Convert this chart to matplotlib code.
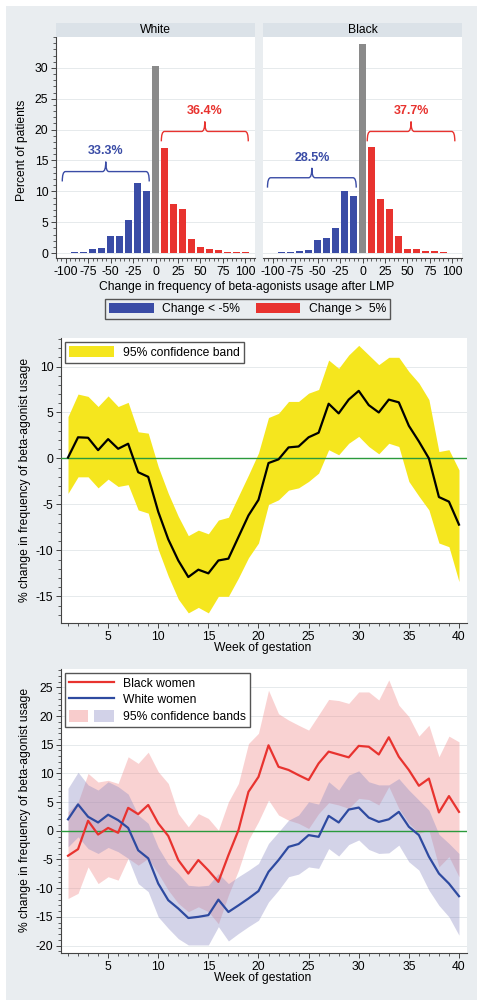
import matplotlib
matplotlib.use('Agg')
import matplotlib.pyplot as plt
import numpy as np
from matplotlib.patches import Patch, Rectangle
from matplotlib.lines import Line2D
from matplotlib.path import Path
from matplotlib.patches import PathPatch
from matplotlib.legend_handler import HandlerTuple
from matplotlib.ticker import MultipleLocator

plt.rcParams['font.family'] = ['Liberation Sans', 'DejaVu Sans']
plt.rcParams['axes.unicode_minus'] = False

# ---- data: histograms (percent of patients by change bin) ----
bins = [-100, -90, -80, -70, -60, -50, -40, -30, -20, -10, 0,
        10, 20, 30, 40, 50, 60, 70, 80, 90, 100]
white_pct = [0.05, 0.1, 0.15, 0.6, 0.9, 2.7, 2.7, 5.3, 11.4, 10.05, 30.3,
             17.0, 7.9, 7.1, 2.3, 1.0, 0.7, 0.5, 0.2, 0.2, 0.1]
black_pct = [0.05, 0.1, 0.15, 0.3, 0.5, 2.05, 2.4, 4.1, 10.0, 9.2, 33.8,
             17.2, 8.75, 7.2, 2.8, 0.7, 0.65, 0.3, 0.3, 0.1, 0.05]
# bracket annotations: (x0, x1, y, label)
white_brackets = [(-104, -7, 13.2, '33.3%'), (6.5, 103.5, 19.7, '36.4%')]
black_brackets = [(-106, -7, 12.2, '28.5%'), (5.3, 103, 19.7, '37.7%')]

# ---- data: overall weekly change ----
weeks = list(range(1, 41))
all_mean = [0.1, 2.3, 2.25, 0.9, 2.1, 1.05, 1.6, -1.5, -2.0, -5.8,
            -8.8, -11.1, -12.9, -12.1, -12.5, -11.1, -10.9, -8.55, -6.2, -4.5,
            -0.5, -0.1, 1.2, 1.3, 2.3, 2.8, 5.95, 4.9, 6.4, 7.35,
            5.8, 5.0, 6.4, 6.1, 3.55, 1.85, 0.0, -4.2, -4.7, -7.2]
all_hi = [4.55, 7.0, 6.75, 5.65, 6.8, 5.65, 6.1, 2.9, 2.75, -0.9,
          -3.8, -6.3, -8.4, -7.8, -8.2, -6.7, -6.4, -4.1, -1.8, 0.6,
          4.45, 4.9, 6.2, 6.2, 7.1, 7.5, 10.7, 9.8, 11.25, 12.3,
          11.25, 10.2, 11.0, 11.0, 9.45, 8.2, 6.4, 0.75, 0.95, -1.25]
all_lo = [-3.8, -2.0, -2.0, -3.2, -2.25, -3.05, -2.85, -5.6, -5.95, -9.9,
          -12.8, -15.3, -16.8, -16.2, -16.8, -15.0, -15.0, -13.0, -10.8, -9.2,
          -5.0, -4.5, -3.45, -3.2, -2.5, -1.6, 0.95, 0.4, 1.65, 2.4,
          1.3, 0.5, 1.65, 1.3, -2.5, -4.1, -5.6, -9.2, -9.6, -13.4]

# ---- data: by race ----
black_mean = [-4.35, -3.2, 1.75, -0.65, 0.5, -0.35, 4.0, 2.9, 4.5, 1.3,
              -0.9, -5.1, -7.45, -5.1, -6.9, -8.9, -4.25, 0.1, 6.8, 9.4,
              14.9, 11.15, 10.6, 9.7, 8.85, 11.75, 13.8, 13.3, 12.8, 14.8,
              14.65, 13.3, 16.3, 12.9, 10.6, 7.85, 9.1, 3.2, 6.05, 3.3]
black_hi = [3.3, 5.0, 10.0, 8.5, 8.8, 8.25, 12.9, 11.75, 13.7, 10.3,
            8.25, 3.0, 0.7, 3.0, 2.15, 0.1, 5.05, 8.25, 15.2, 17.0,
            24.5, 20.4, 19.3, 18.4, 17.55, 20.2, 22.9, 22.7, 22.2, 24.2,
            24.2, 22.8, 26.3, 21.9, 19.9, 16.5, 18.4, 12.9, 16.5, 15.5]
black_lo = [-11.8, -10.9, -6.3, -9.2, -8.0, -8.6, -4.8, -6.0, -4.8, -7.45,
            -10.35, -12.65, -14.1, -13.25, -14.1, -16.2, -11.2, -6.9, -1.6, 1.6,
            5.35, 2.75, 1.85, 1.3, 0.4, 3.0, 4.9, 4.5, 3.9, 5.65,
            5.45, 4.5, 7.7, 3.9, 1.3, -0.45, 0.1, -6.3, -4.5, -8.0]
white_mean = [2.0, 4.6, 2.45, 1.45, 2.8, 1.85, 0.5, -3.4, -4.8, -9.2,
              -12.1, -13.55, -15.2, -15.0, -14.7, -12.0, -14.15, -13.0, -11.8, -10.5,
              -7.15, -5.1, -2.8, -2.3, -0.75, -1.05, 2.6, 1.45, 3.7, 4.05,
              2.3, 1.55, 2.0, 3.3, 0.7, -0.75, -4.5, -7.45, -9.2, -11.4]
white_hi = [7.4, 10.2, 8.0, 7.1, 8.55, 7.7, 6.4, 2.75, 1.3, -2.9,
            -5.8, -7.45, -9.5, -9.65, -9.5, -7.45, -9.2, -8.0, -6.9, -5.7,
            -2.2, -0.2, 1.85, 2.75, 5.05, 4.65, 8.55, 7.1, 9.7, 10.45,
            8.55, 8.0, 8.0, 9.1, 7.1, 5.35, 3.6, -0.6, -2.2, -3.95]
white_lo = [-2.8, -1.05, -3.1, -3.95, -2.9, -3.65, -4.8, -9.2, -10.6, -15.0,
            -17.0, -18.8, -19.9, -19.9, -19.9, -16.7, -19.2, -17.9, -16.7, -15.6,
            -12.4, -10.35, -8.0, -7.55, -6.3, -6.55, -3.1, -4.4, -2.4, -1.6,
            -3.25, -3.95, -3.85, -2.5, -5.4, -6.85, -10.35, -13.0, -15.0, -18.2]

BLUE = '#3a4ca6'
RED = '#e8332f'
GRAY = '#8a8a8a'
BG = '#e9edf0'
AXC = '#444444'
FS = 8.7

W, H = 483, 1007
fig = plt.figure(figsize=(W / 100, H / 100), dpi=100)
fig.patch.set_facecolor('white')
fig.add_artist(Rectangle((6 / W, 1 - 1000 / H), 471 / W, 994 / H,
                         transform=fig.transFigure, facecolor=BG,
                         edgecolor='none', zorder=-10))


def ax_px(l, t, r, b):
    return fig.add_axes([l / W, 1 - b / H, (r - l) / W, (b - t) / H])


def style(ax, left=True):
    for s in ['top', 'right']:
        ax.spines[s].set_visible(False)
    ax.spines['bottom'].set_color(AXC)
    ax.spines['left'].set_color(AXC)
    ax.spines['left'].set_visible(left)
    ax.tick_params(which='major', length=3.5, width=0.7, color=AXC,
                   labelsize=FS, pad=2)
    ax.tick_params(which='minor', length=2, width=0.6, color=AXC)
    ax.set_axisbelow(True)
    ax.grid(axis='y', which='major', color='#e6eaec', lw=0.7)


def brace(ax, x0, x1, y, color, label):
    dy = 1.6
    dx = 3.5
    xc = (x0 + x1) / 2
    verts = [(x0, y - dy), (x0, y), (x0 + dx, y),
             (xc - dx, y), (xc, y), (xc, y + dy),
             (xc, y), (xc + dx, y),
             (x1 - dx, y), (x1, y), (x1, y - dy)]
    codes = [Path.MOVETO, Path.CURVE3, Path.CURVE3,
             Path.LINETO, Path.CURVE3, Path.CURVE3,
             Path.CURVE3, Path.CURVE3,
             Path.LINETO, Path.CURVE3, Path.CURVE3]
    ax.add_patch(PathPatch(Path(verts, codes), facecolor='none',
                           edgecolor=color, lw=1.0, clip_on=False))
    ax.text(xc, y + dy + 0.7, label, color=color, ha='center', va='bottom',
            fontsize=9, fontweight='bold')


# ---- histograms ----
for l, r, name, vals, brs in [(56, 255, 'White', white_pct, white_brackets),
                              (263, 462, 'Black', black_pct, black_brackets)]:
    ax = ax_px(l, 37, r, 258)
    cols = [BLUE if b < 0 else (RED if b > 0 else GRAY) for b in bins]
    ax.bar(bins, vals, width=8, color=cols, edgecolor='none')
    ax.set_xlim(-111, 111)
    ax.set_ylim(-0.8, 35)
    style(ax, left=(name == 'White'))
    ax.set_xticks([-100, -75, -50, -25, 0, 25, 50, 75, 100])
    ax.xaxis.set_minor_locator(MultipleLocator(5))
    ax.set_yticks([0, 5, 10, 15, 20, 25, 30])
    ax.yaxis.set_minor_locator(MultipleLocator(1))
    if name != 'White':
        ax.tick_params(axis='y', which='both', left=False, labelleft=False)
    for x0, x1, y, lab in brs:
        brace(ax, x0, x1, y, BLUE if x0 < 0 else RED, lab)
    sax = ax_px(l, 23, r, 37)
    sax.set_facecolor('#dbe2e8')
    sax.set_xticks([])
    sax.set_yticks([])
    for s in sax.spines.values():
        s.set_visible(False)
    sax.text(0.5, 0.5, name, ha='center', va='center', fontsize=FS,
             transform=sax.transAxes)

fig.text(22 / W, 1 - 150 / H, 'Percent of patients', rotation=90,
         ha='center', va='center', fontsize=FS)
fig.text(247 / W, 1 - 287 / H,
         'Change in frequency of beta-agonists usage after LMP',
         ha='center', va='center', fontsize=FS)
fig.legend(handles=[Patch(facecolor=BLUE, label='Change < -5%'),
                    Patch(facecolor=RED, label='Change >  5%')],
           loc='center', bbox_to_anchor=(247.5 / W, 1 - 309 / H), ncol=2,
           fontsize=FS, frameon=True, fancybox=False, edgecolor='#555555',
           framealpha=1, facecolor=BG, handlelength=3.7, handleheight=0.9,
           columnspacing=1.3, borderpad=0.3, handletextpad=0.7)


def week_axis(ax):
    ax.set_xlim(0.3, 40.8)
    ax.set_xticks([5, 10, 15, 20, 25, 30, 35, 40])
    ax.xaxis.set_minor_locator(MultipleLocator(1))
    ax.yaxis.set_minor_locator(MultipleLocator(1))
    ax.axhline(0, color='#2a9a3c', lw=1.0, zorder=3)


# ---- middle: overall ----
ax2 = ax_px(61, 338, 467, 623)
ax2.fill_between(weeks, all_lo, all_hi, color='#f5e61e', lw=0,
                 label='95% confidence band')
week_axis(ax2)
ax2.plot(weeks, all_mean, color='black', lw=1.6, zorder=4)
ax2.set_ylim(-17.9, 13.1)
ax2.set_yticks([-15, -10, -5, 0, 5, 10])
style(ax2)
ax2.legend(loc='upper left', fontsize=FS, fancybox=False,
           edgecolor='#555555', framealpha=1, handlelength=3.7,
           handleheight=1.1, borderpad=0.35, borderaxespad=0.3)
fig.text(25 / W, 1 - 480 / H, '% change in frequency of beta-agonist usage',
         rotation=90, ha='center', va='center', fontsize=FS)
fig.text(263 / W, 1 - 648 / H, 'Week of gestation', ha='center',
         va='center', fontsize=FS)

# ---- bottom: by race ----
ax3 = ax_px(61, 669, 467, 953)
bp = ax3.fill_between(weeks, black_lo, black_hi, color='#f08a8a',
                      alpha=0.38, lw=0)
wp = ax3.fill_between(weeks, white_lo, white_hi, color='#8c8cc4',
                      alpha=0.38, lw=0)
week_axis(ax3)
lb, = ax3.plot(weeks, black_mean, color=RED, lw=1.6, zorder=4)
lw_, = ax3.plot(weeks, white_mean, color='#2e4aa0', lw=1.6, zorder=4)
ax3.set_ylim(-21.3, 28.2)
ax3.set_yticks([-20, -15, -10, -5, 0, 5, 10, 15, 20, 25])
style(ax3)
ax3.legend([lb, lw_, (Patch(facecolor='#f8cccc'), Patch(facecolor='#d2d2e8'))],
           ['Black women', 'White women', '95% confidence bands'],
           handler_map={tuple: HandlerTuple(ndivide=None, pad=0.5)},
           loc='upper left', fontsize=FS, fancybox=False,
           edgecolor='#555555', framealpha=1, handlelength=3.7,
           handleheight=1.1, borderpad=0.35, borderaxespad=0.3,
           labelspacing=0.3)
fig.text(25 / W, 1 - 810 / H, '% change in frequency of beta-agonist usage',
         rotation=90, ha='center', va='center', fontsize=FS)
fig.text(263 / W, 1 - 978 / H, 'Week of gestation', ha='center',
         va='center', fontsize=FS)

fig.savefig('out.png', dpi=100, facecolor=fig.get_facecolor())
